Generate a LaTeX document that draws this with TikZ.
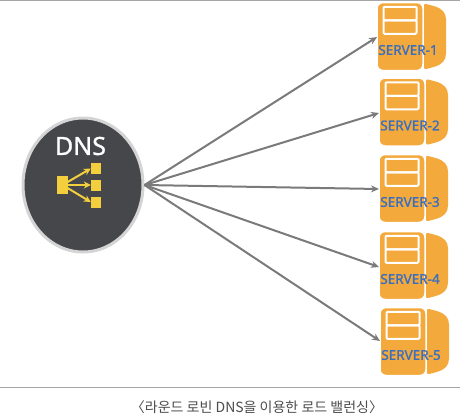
\documentclass[tikz,border=0pt]{standalone}
\usepackage{fontspec}
\setmainfont{Noto Sans}
\newfontfamily\cjk{Noto Sans CJK KR}
\newfontfamily\boldish[FakeBold=1.2]{Noto Sans}
\usetikzlibrary{arrows.meta,shapes.geometric}
\definecolor{dnsgray}{HTML}{45474B}
\definecolor{dnsrim}{HTML}{D4D4D4}
\definecolor{iconyellow}{HTML}{F3CF3E}
\definecolor{serverorange}{HTML}{F3A93B}
\definecolor{serverblue}{HTML}{3A6FC0}
\definecolor{linegray}{HTML}{7A7A7A}
\tikzset{
  link/.style={draw=linegray,line width=2pt,-{Stealth[length=8pt,width=7pt]}},
  iconlink/.style={draw=iconyellow,line width=2pt,-{Stealth[length=7pt,width=7pt]}},
  iconbox/.style={fill=iconyellow,draw=none,inner sep=0pt,minimum width=10pt,minimum height=11pt},
  rack/.style={fill=serverorange,draw=white,line width=1.5pt,rounded corners=6pt,inner sep=0pt,minimum width=46pt,minimum height=68pt},
  slot/.style={draw=white,line width=2pt,rounded corners=1pt,inner sep=0pt,minimum width=33pt,minimum height=13.5pt},
  serverlabel/.style={text=serverblue,font=\boldish\fontsize{13.5}{13.5}\selectfont,inner sep=0pt},
  server/.pic={
    \fill[serverorange,rounded corners=2pt] (24,-33) -- (32,-31) .. controls (42,-28) and (46,-24) .. (46,-15) -- (46,15) .. controls (46,24) and (42,28) .. (32,31) -- (24,33) -- cycle;
    \node[rack] at (0,0) {};
    \node[slot] at (0,-23) {};
    \node[slot] at (0,-9.5) {};
  }
}
\begin{document}
\begin{tikzpicture}[x=1pt,y=-1pt]
  \useasboundingbox (0,0) rectangle (460,416);
  \draw[gray!70,line width=1pt] (0,0.5) -- (460,0.5);
  \draw[gray!70,line width=1pt] (0,387) -- (460,387);

  % balancer
  \node[ellipse,draw=dnsrim,fill=dnsgray,line width=3pt,minimum width=120pt,minimum height=134pt,inner sep=0pt] (dns) at (83,185) {};
  \node[text=white,font=\boldish\fontsize{25}{25}\selectfont,inner sep=0pt] (dnslabel) at (80.5,146) {DNS};
  \node[iconbox,minimum width=11pt,minimum height=18pt] (iconroot) at (62.5,185) {};
  \node[iconbox] (icona) at (96,168.5) {};
  \node[iconbox] (iconb) at (96,185) {};
  \node[iconbox] (iconc) at (96,202) {};
  \foreach \n in {a,b,c}
    \draw[iconlink] (iconroot.center) to (icon\n.west);

  % servers
  \foreach \n/\x/\y/\t in {1/400/36.5/37,2/402/112/113,3/402/188.5/189,4/402/265.5/267,5/403/341.5/341}{
    \pic at (\x,\y) {server};
    \coordinate (target\n) at (\x-23,\t);
    \node[serverlabel] (server\n) at (\x+8,\y+13.5) {SERVER-\n};
    \draw[link] (dns.east) to (target\n);
  }

  \node[font=\cjk\fontsize{14}{14}\selectfont,text=black!70,inner sep=0pt] (caption) at (257,407) {〈라운드 로빈 DNS을 이용한 로드 밸런싱〉};
\end{tikzpicture}
\end{document}
